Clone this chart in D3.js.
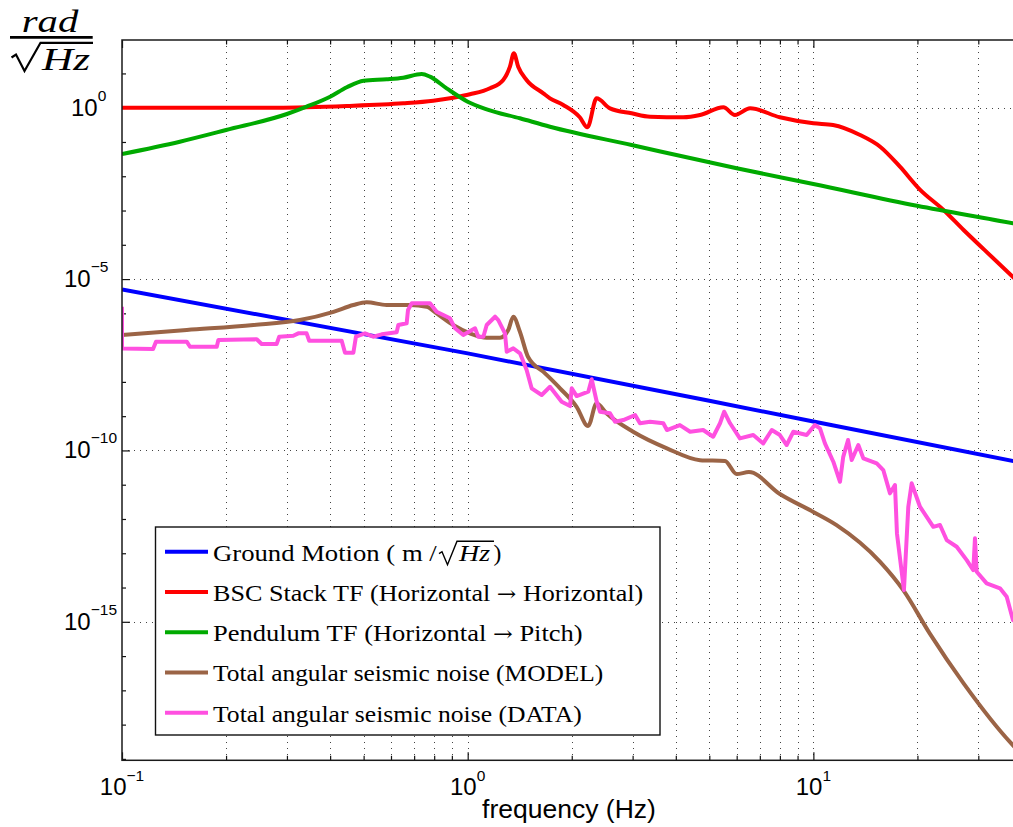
<!DOCTYPE html>
<html>
<head>
<meta charset="utf-8">
<script src="https://cdn.jsdelivr.net/npm/d3@7"></script>
<style>
  html, body { margin: 0; padding: 0; background: #fff; }
  svg { display: block; }
</style>
</head>
<body>
<svg id="chart" width="1013" height="827"></svg>
<script>
// ---------------- data ----------------
// Ground motion spectrum (m/sqrt(Hz))
const groundFreq  = [0.1, 1, 10, 40];
const groundValue = [5.0e-6, 6.8e-8, 7.0e-10, 4.4e-11];

// BSC stack transfer function, horizontal -> horizontal
const stackFreq = [0.1, 0.28, 0.447, 0.651, 0.795, 0.908, 1.015, 1.16, 1.267, 1.325,
                   1.36, 1.40, 1.48, 1.655, 1.73, 1.89, 2.11, 2.22, 2.36, 2.58,
                   2.98, 3.37, 4.20, 4.70, 5.49, 5.93, 6.56, 8.0, 10.0, 11.4,
                   13.65, 15.6, 17.8, 20.3, 23.8, 27.2, 31.3, 37.8, 40];
const stackValue = [1.0, 1.0, 1.12, 1.34, 1.60, 1.96, 2.46, 3.68, 6.43, 15.7,
                    38.7, 15.7, 6.43, 2.63, 1.88, 1.20, 0.525, 0.268, 1.88, 0.96,
                    0.687, 0.546, 0.525, 0.612, 1.03, 0.612, 0.96, 0.525, 0.351, 0.313,
                    0.160, 0.0728, 0.019, 0.00416, 0.00104, 2.7e-4, 7.0e-5, 1.15e-5, 6.7e-6];

// Pendulum transfer function, horizontal -> pitch
const pendFreq = [0.1, 0.147, 0.2, 0.3, 0.342, 0.4, 0.447, 0.5, 0.583, 0.651,
                  0.736, 0.778, 0.869, 1.0, 1.135, 1.416, 1.73, 2.98, 6.0, 10.0,
                  19.95, 37.8, 40];
const pendValue = [0.0446, 0.102, 0.223, 0.655, 1.07, 2.09, 3.94, 6.13, 6.74, 7.50,
                   9.62, 8.03, 3.68, 1.50, 0.898, 0.491, 0.279, 0.0816, 0.0171, 0.00594,
                   0.00138, 4.24e-4, 3.8e-4];

// Total angular seismic noise, model
const modelFreq = [0.1, 0.154, 0.240, 0.327, 0.409, 0.467, 0.510, 0.583, 0.681, 0.761,
                   0.813, 0.908, 1.015, 1.135, 1.24, 1.31, 1.355, 1.416, 1.494, 1.674,
                   1.85, 2.066, 2.23, 2.36, 2.52, 3.01, 3.77, 4.70, 5.55, 6.0,
                   6.51, 8.0, 10.0, 11.67, 15.6, 18.2, 21.7, 27.2, 37.8, 40];
const modelValue = [2.33e-7, 3.26e-7, 4.56e-7, 6.38e-7, 1.11e-6, 1.75e-6, 2.10e-6, 1.75e-6, 1.75e-6, 1.56e-6,
                    1.0e-6, 4.56e-7, 2.61e-7, 1.94e-7, 1.94e-7, 3.26e-7, 7.97e-7, 2.91e-7, 5.42e-8, 1.78e-8,
                    6.49e-9, 1.88e-9, 5.15e-10, 2.37e-9, 1.21e-9, 3.51e-10, 1.15e-10, 5.2e-11, 4.9e-11, 2.04e-11,
                    2.34e-11, 5.35e-12, 1.6e-12, 6.6e-13, 5.6e-14, 8.4e-15, 4.6e-16, 1.6e-17, 2.5e-19, 1.4e-19];

// Total angular seismic noise, measured
const dataFreq = [0.1, 0.1, 0.123, 0.1254, 0.1539, 0.1573, 0.188, 0.190, 0.2453, 0.2535,
                  0.280, 0.285, 0.313, 0.3236, 0.342, 0.348, 0.432, 0.4417, 0.467, 0.475,
                  0.5046, 0.533, 0.564, 0.623, 0.630, 0.666, 0.672, 0.689, 0.778, 0.813,
                  0.889, 0.919, 0.971, 1.05, 1.073, 1.11, 1.135, 1.20, 1.226, 1.282,
                  1.297, 1.355, 1.417, 1.481, 1.531, 1.637, 1.730, 1.87, 1.977, 2.0,
                  2.067, 2.233, 2.284, 2.362, 2.414, 2.58, 2.668, 2.82, 3.05, 3.15,
                  3.37, 3.68, 3.77, 4.11, 4.40, 4.80, 5.13, 5.37, 5.52, 5.74,
                  6.13, 6.70, 7.16, 7.58, 8.0, 8.37, 8.75, 9.56, 10.1, 10.45,
                  10.8, 11.42, 11.94, 12.2, 12.6, 12.91, 13.49, 13.95, 15.25, 15.93,
                  16.66, 17.22, 17.45, 18.28, 18.82, 19.25, 20.34, 22.23, 23.24, 24.30,
                  25.98, 27.77, 29.01, 29.34, 29.68, 31.72, 34.66, 36.25, 37.8, 40];
const dataValue = [1.56e-6, 9.5e-8, 9.1e-8, 1.49e-7, 1.49e-7, 1.06e-7, 1.06e-7, 1.66e-7, 1.75e-7, 1.27e-7,
                   1.27e-7, 2.08e-7, 2.22e-7, 2.61e-7, 2.61e-7, 1.59e-7, 1.59e-7, 7.1e-8, 7.1e-8, 2.08e-7,
                   2.61e-7, 2.08e-7, 2.44e-7, 2.79e-7, 4.56e-7, 5.12e-7, 1.25e-6, 1.96e-6, 1.96e-6, 1.11e-6,
                   7.16e-7, 3.66e-7, 2.33e-7, 3.66e-7, 2.08e-7, 2.08e-7, 4.56e-7, 7.97e-7, 6.38e-7, 2.61e-7,
                   7.6e-8, 9.5e-8, 6.8e-8, 2.22e-8, 6.5e-9, 4.14e-9, 7.2e-9, 2.64e-9, 1.97e-9, 6.5e-9,
                   3.86e-9, 5.16e-9, 1.19e-8, 2.64e-9, 1.35e-9, 1.21e-9, 6.9e-10, 7.7e-10, 1.08e-9, 6.2e-10,
                   6.9e-10, 6.2e-10, 3.94e-10, 5.5e-10, 3.51e-10, 3.94e-10, 2.51e-10, 6.2e-10, 1.35e-9, 6.2e-10,
                   2.25e-10, 2.81e-10, 1.61e-10, 3.94e-10, 2.81e-10, 1.44e-10, 3.51e-10, 2.81e-10, 5.5e-10, 4.42e-10,
                   1.61e-10, 4.68e-11, 1.22e-11, 6.5e-11, 2.01e-10, 5.25e-11, 1.44e-10, 5.88e-11, 4.2e-11, 2.68e-11,
                   5.6e-12, 9.8e-12, 3.8e-13, 8.4e-15, 2.28e-12, 1.1e-11, 2.28e-12, 5.9e-13, 6.65e-13, 2.43e-13,
                   1.55e-13, 6.3e-14, 3.24e-14, 2.72e-13, 2.89e-14, 1.32e-14, 9.5e-15, 5.4e-15, 1.12e-15, 8.0e-16];

const seriesColors = ["#0000ff", "#ff0000", "#00aa00", "#9b6446", "#ff50e0"];

// axis settings
const xDomain = [0.1, 40];
const yDomain = [9.1e-20, 94.5];
const xLabelExp = [-1, 0, 1];
const yLabelExp = [0, -5, -10, -15];

// ---------------- layout ----------------
const plot = { left: 122, top: 40, right: 1021.5, bottom: 760.3 };
const svg = d3.select("#chart");

const x = d3.scaleLog().domain(xDomain).range([plot.left, plot.right]);
const y = d3.scaleLog().domain(yDomain).range([plot.bottom, plot.top]);

svg.append("defs").append("clipPath").attr("id", "plotClip")
  .append("rect")
  .attr("x", plot.left).attr("y", plot.top)
  .attr("width", plot.right - plot.left).attr("height", plot.bottom - plot.top);

// tick value sets
const xMajor = xLabelExp.map(e => Math.pow(10, e));
const xAll = [];
for (let e = -1; e <= 1; e++) {
  for (let m = 1; m <= 9; m++) {
    const v = +(m * Math.pow(10, e)).toPrecision(6);
    if (v >= xDomain[0] && v <= xDomain[1]) xAll.push(v);
  }
}
const xMinor = xAll.filter(v => !xMajor.includes(v));
const yMajor = yLabelExp.map(e => Math.pow(10, e));
const yDecades = d3.range(-19, 2).map(e => Math.pow(10, e)).filter(v => !yMajor.includes(v));

// ---------------- grid ----------------
const grid = svg.append("g")
  .attr("stroke", "#444").attr("stroke-width", 1)
  .attr("stroke-dasharray", "1,5").attr("fill", "none");

grid.append("g").selectAll("line")
  .data(xAll.filter(v => v > xDomain[0]))
  .join("line")
  .attr("x1", d => Math.round(x(d)) + 0.5).attr("x2", d => Math.round(x(d)) + 0.5)
  .attr("y1", plot.top).attr("y2", plot.bottom);

grid.append("g").selectAll("line")
  .data(yMajor)
  .join("line")
  .attr("x1", plot.left).attr("x2", plot.right)
  .attr("y1", d => Math.round(y(d)) + 0.5).attr("y2", d => Math.round(y(d)) + 0.5);

// ---------------- axes (inside ticks, boxed) ----------------
function tickAxis(axis, size, values) {
  return g => {
    g.call(axis.tickValues(values).tickSize(size).tickFormat(""));
    g.select(".domain").remove();
    g.selectAll(".tick line").attr("stroke", "#111").attr("stroke-width", 1.2);
  };
}
svg.append("g").attr("transform", `translate(0,${plot.bottom})`).call(tickAxis(d3.axisBottom(x), -8, xMajor));
svg.append("g").attr("transform", `translate(0,${plot.bottom})`).call(tickAxis(d3.axisBottom(x), -4.5, xMinor));
svg.append("g").attr("transform", `translate(0,${plot.top})`).call(tickAxis(d3.axisTop(x), -8, xMajor));
svg.append("g").attr("transform", `translate(0,${plot.top})`).call(tickAxis(d3.axisTop(x), -4.5, xMinor));
svg.append("g").attr("transform", `translate(${plot.left},0)`).call(tickAxis(d3.axisLeft(y), -8, yMajor));
svg.append("g").attr("transform", `translate(${plot.left},0)`).call(tickAxis(d3.axisLeft(y), -4, yDecades));

// ---------------- series ----------------
const line = d3.line().x(d => x(d[0])).y(d => y(d[1]));
const zip = (fs, vs) => fs.map((f, i) => [f, vs[i]]);

const series = [
  { pts: zip(groundFreq, groundValue), color: seriesColors[0], curve: d3.curveMonotoneX },
  { pts: zip(stackFreq, stackValue),   color: seriesColors[1], curve: d3.curveMonotoneX },
  { pts: zip(pendFreq, pendValue),     color: seriesColors[2], curve: d3.curveMonotoneX },
  { pts: zip(modelFreq, modelValue),   color: seriesColors[3], curve: d3.curveMonotoneX },
  { pts: zip(dataFreq, dataValue),     color: seriesColors[4], curve: d3.curveLinear }
];

const lines = svg.append("g").attr("clip-path", "url(#plotClip)");
series.forEach(s => {
  lines.append("path")
    .attr("d", line.curve(s.curve)(s.pts))
    .attr("fill", "none")
    .attr("stroke", s.color)
    .attr("stroke-width", 4)
    .attr("stroke-linejoin", "round")
    .attr("stroke-linecap", "butt");
});

// ---------------- frame ----------------
svg.append("rect")
  .attr("x", plot.left).attr("y", plot.top)
  .attr("width", plot.right - plot.left).attr("height", plot.bottom - plot.top)
  .attr("fill", "none").attr("stroke", "#1a1a1a").attr("stroke-width", 1.5);

// ---------------- tick labels ----------------
const sans = "'Liberation Sans', Arial, Helvetica, sans-serif";
const serif = "'Liberation Serif', 'Times New Roman', serif";
const fmtExp = e => (e < 0 ? "\u2212" + (-e) : String(e));

const xLab = svg.append("g").attr("font-family", sans).attr("fill", "#000");
xLabelExp.forEach(e => {
  const t = xLab.append("text")
    .attr("x", x(Math.pow(10, e)))
    .attr("y", plot.bottom + 34.7)
    .attr("text-anchor", "middle")
    .attr("font-size", 24)
    .text("10");
  t.append("tspan").attr("dy", -14.5).attr("font-size", 15.5).text(fmtExp(e));
});

const yLab = svg.append("g").attr("font-family", sans).attr("fill", "#000");
yLabelExp.forEach(e => {
  const t = yLab.append("text")
    .attr("x", plot.left - (e < 0 ? 58 : 51))
    .attr("y", y(Math.pow(10, e)) + 8)
    .attr("font-size", 24)
    .text("10");
  t.append("tspan").attr("dy", -15).attr("font-size", 15.5).text(fmtExp(e));
});

// axis title
svg.append("text")
  .attr("x", 569).attr("y", 818)
  .attr("text-anchor", "middle")
  .attr("font-family", sans).attr("font-size", 26.5)
  .text("frequency (Hz)");

// unit label: rad / sqrt(Hz)
const unit = svg.append("g").attr("font-family", serif).attr("font-style", "italic").attr("font-size", 31);
unit.append("text").attr("x", 21.7).attr("y", 31.7)
  .attr("textLength", 56.6).attr("lengthAdjust", "spacingAndGlyphs").text("rad");
unit.append("line").attr("x1", 10).attr("x2", 92.7).attr("y1", 37.3).attr("y2", 37.3)
  .attr("stroke", "#000").attr("stroke-width", 2.7);
unit.append("path")
  .attr("d", "M11.5,57.5 L16,54.5 L24.5,71 L40.5,42.8 L93,42.8")
  .attr("fill", "none").attr("stroke", "#000").attr("stroke-width", 2.2).attr("stroke-linejoin", "miter");
unit.append("text").attr("x", 42).attr("y", 70)
  .attr("textLength", 48).attr("lengthAdjust", "spacingAndGlyphs").text("Hz");

// ---------------- legend ----------------
const legend = { x: 155.5, y: 527, w: 504.5, h: 208, row0: 551.7, rowStep: 40.25,
                 lineX1: 165, lineX2: 208, textX: 213 };
const lg = svg.append("g");
lg.append("rect")
  .attr("x", legend.x).attr("y", legend.y).attr("width", legend.w).attr("height", legend.h)
  .attr("fill", "#fff").attr("stroke", "#111").attr("stroke-width", 1.4);

// each label as [text before arrow, text after arrow]; null means no arrow
const legendLabels = [
  null,
  ["BSC Stack TF (Horizontal ", " Horizontal)"],
  ["Pendulum TF (Horizontal ", " Pitch)"],
  ["Total angular seismic noise (MODEL)", null],
  ["Total angular seismic noise (DATA)", null]
];
const legendWidths = [223.7, 430.3, 369.7, 390.3, 368.7];

seriesColors.forEach((c, i) => {
  const cy = legend.row0 + i * legend.rowStep;
  lg.append("line")
    .attr("x1", legend.lineX1).attr("x2", legend.lineX2)
    .attr("y1", cy).attr("y2", cy)
    .attr("stroke", c).attr("stroke-width", 4);
  const t = lg.append("text")
    .attr("x", legend.textX).attr("y", cy + 8.8)
    .attr("font-family", serif).attr("font-size", 23.5)
    .attr("textLength", legendWidths[i]).attr("lengthAdjust", "spacingAndGlyphs");
  if (i === 0) {
    t.text("Ground Motion ( m /");
    // sqrt(Hz) built from a radical stroke and italic text
    lg.append("path")
      .attr("d", `M439,${cy + 2} L442,${cy} L447.5,${cy + 13} L457,${cy - 10.5} L494,${cy - 10.5}`)
      .attr("fill", "none").attr("stroke", "#000").attr("stroke-width", 1.4);
    lg.append("text").attr("x", 459).attr("y", cy + 8.8)
      .attr("font-family", serif).attr("font-style", "italic").attr("font-size", 23.5)
      .attr("textLength", 31).attr("lengthAdjust", "spacingAndGlyphs").text("Hz");
    lg.append("text").attr("x", 493.5).attr("y", cy + 8.8)
      .attr("font-family", serif).attr("font-size", 23.5).text(")");
  } else {
    const [a, b] = legendLabels[i];
    t.append("tspan").text(a);
    if (b !== null) {
      t.append("tspan").attr("font-family", "'DejaVu Serif', serif").attr("font-size", 21).text("\u2192");
      t.append("tspan").text(b);
    }
  }
});
</script>
</body>
</html>
